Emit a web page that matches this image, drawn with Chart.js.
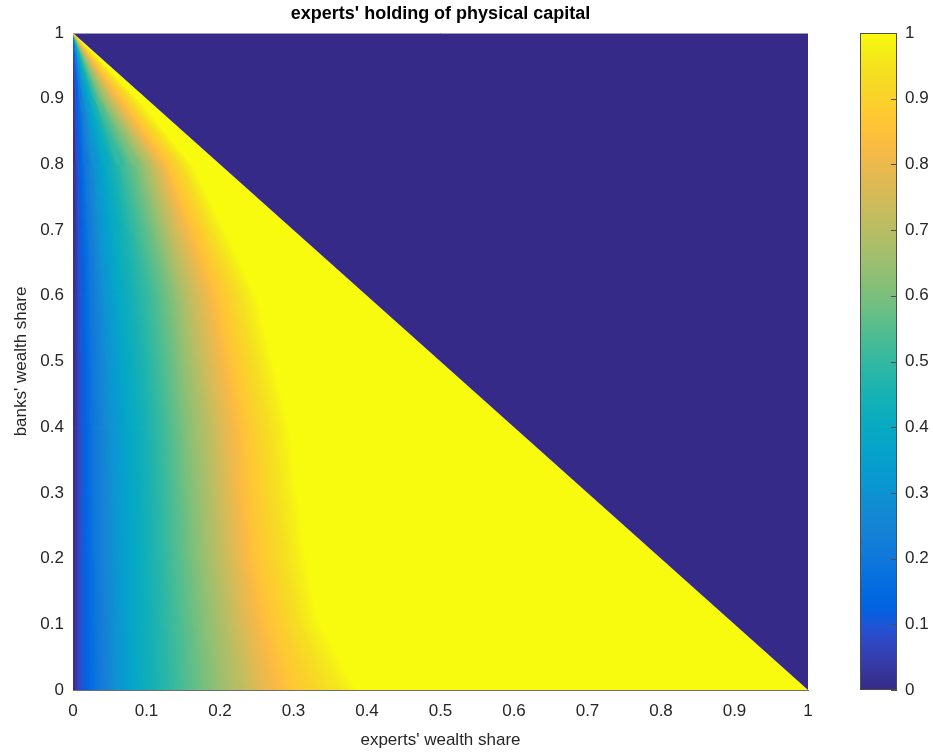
<!DOCTYPE html>
<html>
<head>
<meta charset="utf-8">
<script src="https://cdn.jsdelivr.net/npm/chart.js@4.4.0/dist/chart.umd.min.js"></script>
<style>
  html, body { margin: 0; padding: 0; background: #fff; }
  #wrap { position: relative; width: 933px; height: 752px; }
  #mainChart { position: absolute; left: 0; top: 0; }
  #barChart { position: absolute; left: 820px; top: 0; }
</style>
</head>
<body>
<div id="wrap">
  <canvas id="mainChart" width="933" height="752"></canvas>
  <canvas id="barChart" width="113" height="752"></canvas>
</div>
<script>
// banks' wealth share of every row where the contour positions are taken
const bankShare = [0, 0.1, 0.2, 0.3, 0.4, 0.5, 0.6, 0.7, 0.8, 0.9, 0.95, 1];

// holding level of every contour line
const holdLevels = [0, 0.1, 0.2, 0.3, 0.4, 0.5, 0.6, 0.7, 0.8, 0.85, 0.9, 0.95, 1];

// experts' wealth share at which the holding reaches the level, one entry per row
const at000 = [0, 0, 0, 0, 0, 0, 0, 0, 0, 0, 0, 0];
const at010 = [0.012, 0.012, 0.012, 0.012, 0.012, 0.011, 0.010, 0.009, 0.007, 0.004, 0.002, 0];
const at020 = [0.035, 0.033, 0.030, 0.029, 0.028, 0.027, 0.025, 0.021, 0.017, 0.010, 0.005, 0];
const at030 = [0.060, 0.058, 0.056, 0.054, 0.052, 0.048, 0.043, 0.036, 0.030, 0.016, 0.008, 0];
const at040 = [0.090, 0.088, 0.087, 0.085, 0.082, 0.074, 0.065, 0.056, 0.046, 0.023, 0.011, 0];
const at050 = [0.135, 0.130, 0.125, 0.122, 0.118, 0.110, 0.100, 0.083, 0.064, 0.030, 0.015, 0];
const at060 = [0.180, 0.172, 0.163, 0.157, 0.150, 0.141, 0.132, 0.110, 0.087, 0.038, 0.019, 0];
const at070 = [0.225, 0.210, 0.196, 0.190, 0.182, 0.169, 0.155, 0.130, 0.105, 0.048, 0.024, 0];
const at080 = [0.265, 0.243, 0.228, 0.218, 0.212, 0.196, 0.182, 0.151, 0.120, 0.058, 0.029, 0];
const at085 = [0.290, 0.265, 0.245, 0.237, 0.231, 0.214, 0.196, 0.163, 0.128, 0.066, 0.032, 0];
const at090 = [0.320, 0.290, 0.270, 0.259, 0.250, 0.232, 0.214, 0.178, 0.141, 0.073, 0.036, 0];
const at095 = [0.355, 0.310, 0.293, 0.282, 0.272, 0.252, 0.231, 0.191, 0.150, 0.080, 0.040, 0];
const at100 = [0.390, 0.335, 0.318, 0.305, 0.295, 0.272, 0.250, 0.207, 0.163, 0.088, 0.044, 0];
const contourX = [at000, at010, at020, at030, at040, at050, at060, at070, at080, at085, at090, at095, at100];

// edge of the state space: experts + banks = 1, holding is 0 above it
const edgeX = [0, 1];
const edgeY = [1, 0];

const xTicks = [0, 0.1, 0.2, 0.3, 0.4, 0.5, 0.6, 0.7, 0.8, 0.9, 1];
const yTicks = [0, 0.1, 0.2, 0.3, 0.4, 0.5, 0.6, 0.7, 0.8, 0.9, 1];

// parula colour map (64 steps)
const parula = [
  [0.2081,0.1663,0.5292],[0.2116,0.1898,0.5777],[0.2123,0.2138,0.6270],[0.2081,0.2386,0.6771],
  [0.1959,0.2645,0.7279],[0.1707,0.2919,0.7792],[0.1253,0.3242,0.8303],[0.0591,0.3598,0.8683],
  [0.0117,0.3875,0.8820],[0.0060,0.4086,0.8828],[0.0165,0.4266,0.8786],[0.0329,0.4430,0.8720],
  [0.0498,0.4586,0.8641],[0.0629,0.4737,0.8554],[0.0723,0.4887,0.8467],[0.0779,0.5040,0.8384],
  [0.0793,0.5200,0.8312],[0.0749,0.5375,0.8263],[0.0641,0.5570,0.8240],[0.0488,0.5772,0.8228],
  [0.0343,0.5966,0.8199],[0.0265,0.6137,0.8135],[0.0239,0.6287,0.8038],[0.0231,0.6418,0.7913],
  [0.0228,0.6535,0.7768],[0.0267,0.6642,0.7607],[0.0384,0.6743,0.7436],[0.0590,0.6838,0.7254],
  [0.0843,0.6928,0.7062],[0.1133,0.7015,0.6859],[0.1453,0.7098,0.6646],[0.1801,0.7177,0.6424],
  [0.2178,0.7250,0.6193],[0.2586,0.7317,0.5954],[0.3022,0.7376,0.5712],[0.3482,0.7424,0.5473],
  [0.3953,0.7459,0.5244],[0.4420,0.7481,0.5033],[0.4871,0.7491,0.4840],[0.5300,0.7491,0.4661],
  [0.5709,0.7485,0.4494],[0.6099,0.7473,0.4337],[0.6473,0.7456,0.4188],[0.6834,0.7435,0.4044],
  [0.7184,0.7411,0.3905],[0.7525,0.7384,0.3768],[0.7858,0.7356,0.3633],[0.8185,0.7327,0.3498],
  [0.8507,0.7299,0.3360],[0.8824,0.7274,0.3217],[0.9139,0.7258,0.3063],[0.9450,0.7261,0.2886],
  [0.9739,0.7314,0.2666],[0.9938,0.7455,0.2403],[0.9990,0.7653,0.2164],[0.9955,0.7861,0.1967],
  [0.9880,0.8066,0.1794],[0.9789,0.8271,0.1633],[0.9697,0.8481,0.1475],[0.9626,0.8705,0.1309],
  [0.9589,0.8949,0.1132],[0.9598,0.9218,0.0948],[0.9661,0.9514,0.0755],[0.9763,0.9831,0.0538]
];

function parulaColor(v) {
  v = Math.min(1, Math.max(0, v));
  const f = v * (parula.length - 1);
  const i = Math.min(parula.length - 2, Math.floor(f));
  const t = f - i;
  const c = [0, 1, 2].map(j => Math.round(255 * (parula[i][j] * (1 - t) + parula[i + 1][j] * t)));
  return 'rgb(' + c.join(',') + ')';
}

const fmtTick = v => String(Math.round(v * 10) / 10);
const textFont = "'Liberation Sans', Arial, Helvetica, sans-serif";
const axisGrey = '#6e6e6e';

// draws the filled bands between neighbouring contour lines
const contourBands = {
  id: 'contourBands',
  beforeDatasetsDraw(chart) {
    const { ctx, chartArea, scales: { x, y } } = chart;
    const px = v => x.getPixelForValue(v);
    const py = v => y.getPixelForValue(v);
    ctx.save();
    ctx.beginPath();
    ctx.rect(chartArea.left, chartArea.top, chartArea.width, chartArea.height);
    ctx.clip();

    // feasible triangle at full holding first
    ctx.fillStyle = parulaColor(1);
    ctx.beginPath();
    ctx.moveTo(px(edgeX[0]), py(edgeY[1]));
    ctx.lineTo(px(edgeX[1]), py(edgeY[1]));
    ctx.lineTo(px(edgeX[0]), py(edgeY[0]));
    ctx.closePath();
    ctx.fill();

    const lines = chart.data.datasets.filter(d => d.level !== undefined);
    for (let k = 0; k < lines.length - 1; k++) {
      const lo = lines[k], hi = lines[k + 1];
      for (let i = 0; i < lo.data.length - 1; i++) {
        const a = [px(lo.data[i].x), py(lo.data[i].y)];
        const b = [px(lo.data[i + 1].x), py(lo.data[i + 1].y)];
        const c = [px(hi.data[i + 1].x), py(hi.data[i + 1].y)];
        const d = [px(hi.data[i].x), py(hi.data[i].y)];

        // direction along the band, gradient runs across it
        const l1 = Math.hypot(b[0] - a[0], b[1] - a[1]) || 1;
        const l2 = Math.hypot(c[0] - d[0], c[1] - d[1]) || 1;
        let dx = (b[0] - a[0]) / l1 + (c[0] - d[0]) / l2;
        let dy = (b[1] - a[1]) / l1 + (c[1] - d[1]) / l2;
        const l = Math.hypot(dx, dy);
        if (l < 1e-6) { dx = 0; dy = -1; } else { dx /= l; dy /= l; }
        let nx = -dy, ny = dx;
        if (nx < 0) { nx = -nx; ny = -ny; }
        const mL = [(a[0] + b[0]) / 2, (a[1] + b[1]) / 2];
        const mR = [(c[0] + d[0]) / 2, (c[1] + d[1]) / 2];
        const s = (mR[0] - mL[0]) * nx + (mR[1] - mL[1]) * ny;

        let style;
        if (s < 0.5) {
          style = parulaColor((lo.level + hi.level) / 2);
        } else {
          style = ctx.createLinearGradient(mL[0], mL[1], mL[0] + nx * s, mL[1] + ny * s);
          for (let t = 0; t <= 4; t++) {
            style.addColorStop(t / 4, parulaColor(lo.level + (hi.level - lo.level) * t / 4));
          }
        }
        ctx.beginPath();
        ctx.moveTo(a[0], a[1]);
        ctx.lineTo(b[0], b[1]);
        ctx.lineTo(c[0], c[1]);
        ctx.lineTo(d[0], d[1]);
        ctx.closePath();
        ctx.fillStyle = style;
        ctx.strokeStyle = style;
        ctx.lineWidth = 1;
        ctx.fill();
        ctx.stroke();
      }
    }
    ctx.restore();
  },
  afterDraw(chart) {
    const { ctx, chartArea } = chart;
    ctx.save();
    ctx.strokeStyle = '#a09cbc';
    ctx.lineWidth = 1;
    ctx.beginPath();
    ctx.moveTo(chartArea.left, chartArea.top + 0.5);
    ctx.lineTo(chartArea.right, chartArea.top + 0.5);
    ctx.stroke();
    ctx.restore();
  }
};

const lineSets = contourX.map((xs, k) => ({
  level: holdLevels[k],
  data: xs.map((v, i) => ({ x: v, y: bankShare[i] })),
  showLine: false,
  pointRadius: 0,
  fill: false
}));

const edgeSet = {
  data: edgeX.map((v, i) => ({ x: v, y: edgeY[i] })),
  borderWidth: 0,
  borderColor: 'rgba(0,0,0,0)',
  pointRadius: 0,
  fill: 'end',
  backgroundColor: parulaColor(0)
};

new Chart(document.getElementById('mainChart'), {
  type: 'line',
  data: { datasets: [...lineSets, edgeSet] },
  options: {
    responsive: false,
    animation: false,
    events: [],
    layout: { padding: { left: 0, right: 125, top: 0, bottom: 0 } },
    plugins: {
      legend: { display: false },
      tooltip: { enabled: false },
      title: {
        display: true,
        fullSize: false,
        text: "experts' holding of physical capital",
        color: '#000',
        font: { family: textFont, size: 18, weight: 'bold', lineHeight: 1.2 },
        padding: { top: 3, bottom: 8.4 }
      }
    },
    scales: {
      x: {
        type: 'linear',
        min: 0,
        max: 1,
        afterBuildTicks: s => { s.ticks = xTicks.map(v => ({ value: v })); },
        afterFit: s => { s.height = 62; },
        grid: { display: false, drawTicks: false },
        border: { display: true, color: axisGrey, width: 1 },
        ticks: {
          padding: 11,
          color: '#262626',
          font: { family: textFont, size: 17 },
          maxRotation: 0,
          callback: v => fmtTick(v)
        },
        title: {
          display: true,
          text: "experts' wealth share",
          color: '#262626',
          font: { family: textFont, size: 17 },
          padding: { top: 0, bottom: 1.8 }
        }
      },
      y: {
        type: 'linear',
        min: 0,
        max: 1,
        afterBuildTicks: s => { s.ticks = yTicks.map(v => ({ value: v })); },
        afterFit: s => { s.width = 73; },
        grid: { display: false, drawTicks: false },
        border: { display: true, color: axisGrey, width: 1 },
        ticks: {
          padding: 9,
          color: '#262626',
          font: { family: textFont, size: 17 },
          callback: v => fmtTick(v)
        },
        title: {
          display: true,
          text: "banks' wealth share",
          color: '#262626',
          font: { family: textFont, size: 17 },
          padding: { top: 10.8, bottom: 0 }
        }
      }
    }
  },
  plugins: [contourBands]
});

// colour bar next to the plot
const barOutline = {
  id: 'barOutline',
  afterDraw(chart) {
    const { ctx, chartArea, scales: { y } } = chart;
    ctx.save();
    ctx.strokeStyle = '#4d4d4d';
    ctx.lineWidth = 1;
    ctx.beginPath();
    y.ticks.forEach(t => {
      const p = Math.round(y.getPixelForValue(t.value)) + 0.5;
      ctx.moveTo(chartArea.right - 6, p);
      ctx.lineTo(chartArea.right, p);
    });
    ctx.stroke();
    ctx.strokeRect(chartArea.left + 0.5, chartArea.top + 0.5, chartArea.width - 1, chartArea.height - 1);
    ctx.restore();
  }
};

new Chart(document.getElementById('barChart'), {
  type: 'bar',
  data: {
    labels: [''],
    datasets: [{
      data: [[0, 1]],
      barPercentage: 1,
      categoryPercentage: 1,
      borderWidth: 0,
      backgroundColor: c => {
        const chart = c.chart;
        if (!chart.chartArea) return parulaColor(0.5);
        const ys = chart.scales.y;
        const g = chart.ctx.createLinearGradient(0, ys.getPixelForValue(0), 0, ys.getPixelForValue(1));
        parula.forEach((rgb, i) => {
          g.addColorStop(i / (parula.length - 1), 'rgb(' + rgb.map(v => Math.round(v * 255)).join(',') + ')');
        });
        return g;
      }
    }]
  },
  options: {
    responsive: false,
    animation: false,
    events: [],
    layout: { padding: { left: 40, right: 0, top: 33, bottom: 62 } },
    plugins: { legend: { display: false }, tooltip: { enabled: false } },
    scales: {
      x: { display: false },
      y: {
        position: 'right',
        min: 0,
        max: 1,
        afterBuildTicks: s => { s.ticks = yTicks.map(v => ({ value: v })); },
        afterFit: s => { s.width = 36; },
        grid: { display: false, drawTicks: false },
        border: { display: false },
        ticks: {
          padding: 8,
          color: '#262626',
          font: { family: textFont, size: 17 },
          callback: v => fmtTick(v)
        }
      }
    }
  },
  plugins: [barOutline]
});
</script>
</body>
</html>
